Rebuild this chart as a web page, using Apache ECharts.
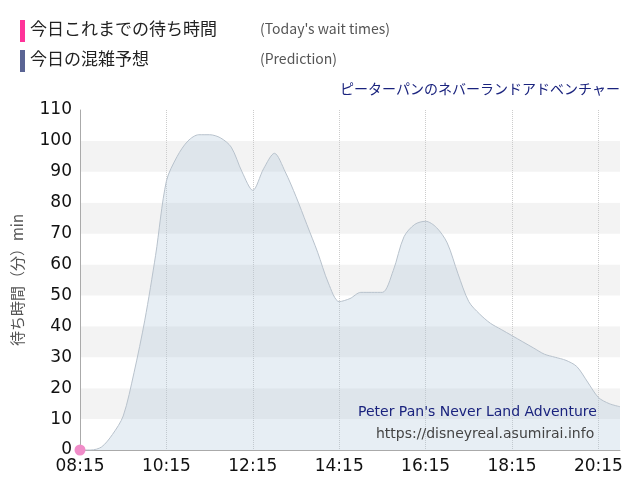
<!DOCTYPE html>
<html><head><meta charset="utf-8">
<script src="https://cdn.jsdelivr.net/npm/echarts@6/dist/echarts.min.js"></script>
<style>body{margin:0}#c{width:640px;height:500px}</style></head>
<body><div id="c"></div>
<script>
// 15-minute slots from 08:15 to 20:45
var times = [];
for (var m = 8*60+15; m <= 20*60+45; m += 15) {
  var h = Math.floor(m/60), mm = m%60;
  times.push((h < 10 ? '0' : '') + h + ':' + (mm < 10 ? '0' : '') + mm);
}
var prediction = [0,0,1,5,11,25,42,63,87,95,100,102,102,101,98,90,84,91,96,90,82,73,64,54,48,49,51,51,51,58,69,73,74,72,67,57,48,44,41,39,37,35,33,31,30,29,27,22,17,15,14];
var today = [0];
var yTicks = [0,10,20,30,40,50,60,70,80,90,100,110];

var chart = echarts.init(document.getElementById('c'));
var font = '"Noto Sans CJK JP", sans-serif';
chart.setOption({
  animation: false,
  textStyle: {fontFamily: font},
  grid: {left: 80, right: 20, top: 110, bottom: 50},
  graphic: [
    {type:'rect', shape:{x:20,y:20,width:5,height:22}, style:{fill:'#ff3399'}},
    {type:'text', left:30, top:20, style:{text:'今日これまでの待ち時間', font:'17px '+font, fill:'#222'}},
    {type:'text', left:260, top:22, style:{text:"(Today's wait times)", font:'14px '+font, fill:'#555'}},
    {type:'rect', shape:{x:20,y:50,width:5,height:22}, style:{fill:'#5a6494'}},
    {type:'text', left:30, top:50, style:{text:'今日の混雑予想', font:'17px '+font, fill:'#222'}},
    {type:'text', left:260, top:52, style:{text:'(Prediction)', font:'14px '+font, fill:'#555'}},
    {type:'text', right:20, top:82, style:{text:'ピーターパンのネバーランドアドベンチャー', font:'14px '+font, fill:'#1a237e'}},
    {type:'text', left:358, top:405, z:100, style:{text:"Peter Pan's Never Land Adventure", font:'14px "DejaVu Sans", sans-serif', fill:'#1a237e'}},
    {type:'text', left:376, top:427, z:100, style:{text:'https://disneyreal.asumirai.info', font:'14px "DejaVu Sans", sans-serif', fill:'#444'}}
  ],
  xAxis: {
    type: 'category', data: times, boundaryGap: false,
    axisLine: {lineStyle:{color:'#aaa'}}, axisTick: {show:false},
    axisLabel: {interval: 7, color:'#111', fontSize: 17, fontFamily: 'DejaVu Sans'},
    splitLine: {show:true, interval: 7, lineStyle:{color:'#ccc', type:'dotted'}}
  },
  yAxis: {
    type: 'value', min: 0, max: 110, interval: 10,
    name: '待ち時間（分）min', nameLocation: 'middle', nameGap: 55,
    nameTextStyle: {color:'#555', fontSize: 15},
    axisLine: {show:true, lineStyle:{color:'#aaa'}}, axisTick: {show:false},
    axisLabel: {color:'#111', fontSize: 17, fontFamily: 'DejaVu Sans',
      formatter: function(v){ return yTicks.indexOf(v) >= 0 ? v : ''; }},
    splitLine: {show:false},
    splitArea: {show:true, areaStyle:{color:['#ffffff','#f3f3f3']}}
  },
  series: [
    {name:'Prediction', type:'line', data: prediction, smooth: 0.3, symbol:'none',
     lineStyle:{color:'#b8c2cc', width:1}, areaStyle:{color:'rgba(170,195,215,0.4)'}},
    {name:'Today', type:'line', data: today, symbol:'circle', symbolSize: 11,
     itemStyle:{color:'#f08cc8'}, lineStyle:{color:'#ff3399'}}
  ]
});
</script></body></html>
